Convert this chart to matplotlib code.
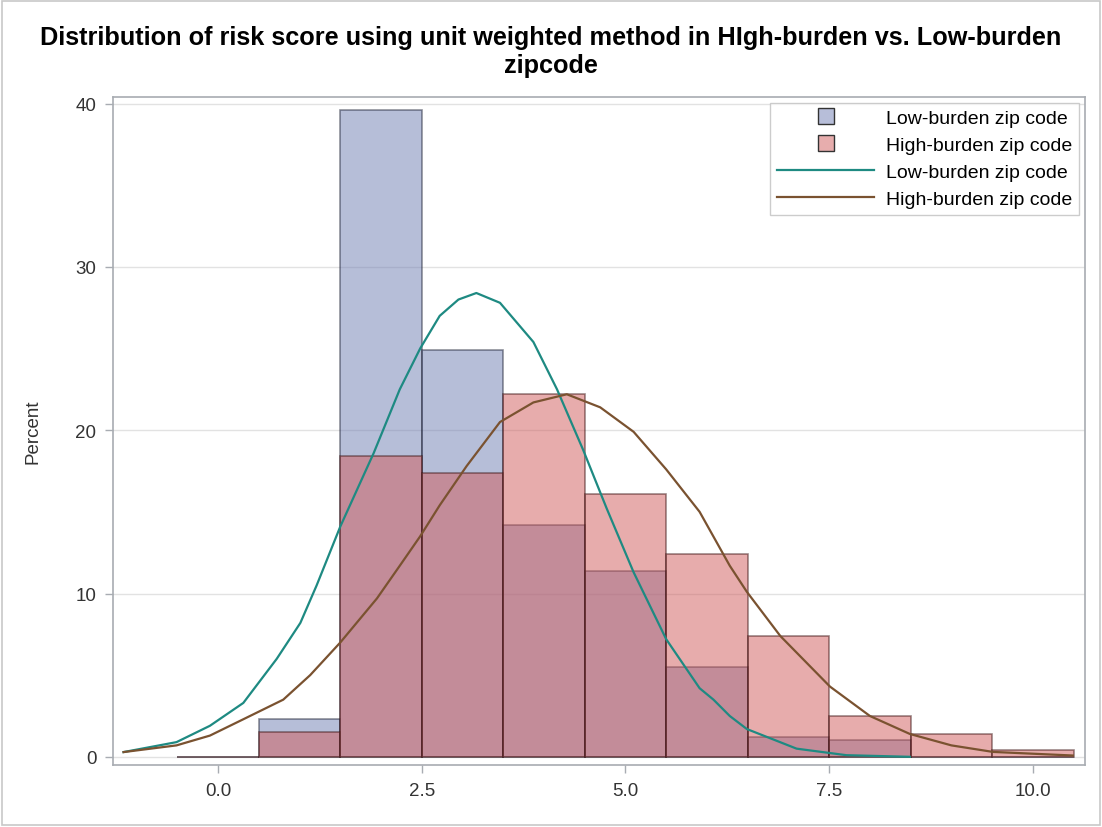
import numpy as np
import matplotlib
matplotlib.use("Agg")
import matplotlib.pyplot as plt
from matplotlib.lines import Line2D

plt.rcParams["font.family"] = ["Liberation Sans", "DejaVu Sans"]

# ── histogram bins (percent per unit-wide bin) ──
BIN_CENTERS = [0, 1, 2, 3, 4, 5, 6, 7, 8, 9, 10]
LOW_PCT  = [0.0, 2.3, 39.6, 24.9, 14.2, 11.4, 5.5, 1.2, 1.0, 0.0, 0.0]
HIGH_PCT = [0.0, 1.5, 18.4, 17.4, 22.2, 16.1, 12.4, 7.4, 2.5, 1.4, 0.4]

# ── kernel density curves ──
LOW_KDE_X = [-1.16, -0.51, -0.10, 0.31, 0.72, 1.01, 1.21, 1.50, 1.91, 2.23,
             2.48, 2.72, 2.95, 3.17, 3.46, 3.87, 4.16, 4.48, 4.77, 5.10,
             5.50, 5.91, 6.08, 6.28, 6.49, 7.10, 7.71, 8.49]
LOW_KDE_Y = [0.29, 0.9, 1.9, 3.3, 6.0, 8.2, 10.5, 14.1, 18.6, 22.5,
             25.0, 27.0, 28.0, 28.4, 27.8, 25.4, 22.5, 18.8, 15.2, 11.3,
             7.2, 4.2, 3.5, 2.5, 1.7, 0.5, 0.1, 0.0]
HIGH_KDE_X = [-1.16, -0.51, -0.10, 0.31, 0.80, 1.13, 1.50, 1.95, 2.23, 2.48,
              2.72, 3.05, 3.46, 3.87, 4.28, 4.69, 5.10, 5.50, 5.91, 6.28,
              6.49, 6.90, 7.51, 8.00, 8.49, 9.00, 9.51, 10.49]
HIGH_KDE_Y = [0.29, 0.7, 1.3, 2.3, 3.5, 5.0, 7.0, 9.7, 11.7, 13.5,
              15.4, 17.8, 20.5, 21.7, 22.2, 21.4, 19.9, 17.6, 15.0, 11.7,
              10.1, 7.4, 4.3, 2.5, 1.4, 0.7, 0.3, 0.08]

LABEL_LOW = "Low-burden zip code"
LABEL_HIGH = "High-burden zip code"
TITLE = ("Distribution of risk score using unit weighted method in HIgh-burden vs. Low-burden\n"
         "zipcode")

fig = plt.figure(figsize=(11.02, 8.28), dpi=100)
ax = fig.add_axes([0.1025, 0.0749, 0.8821, 0.8067])

# figure frame
fig.patches.append(plt.Rectangle((0.002, 0.002), 0.996, 0.996, transform=fig.transFigure,
                                 fill=False, edgecolor="#C8C8C8", linewidth=1.2))

ax.bar(BIN_CENTERS, LOW_PCT, width=1.0, color="#6F7EB3", alpha=0.5,
       edgecolor="#1E2235", linewidth=1.2, zorder=2)
ax.bar(BIN_CENTERS, HIGH_PCT, width=1.0, color="#D05B5B", alpha=0.5,
       edgecolor="#3A1010", linewidth=1.2, zorder=3)

ax.plot(LOW_KDE_X, LOW_KDE_Y, color="#1E8A82", linewidth=1.6, zorder=4)
ax.plot(HIGH_KDE_X, HIGH_KDE_Y, color="#7A5230", linewidth=1.6, zorder=4)

ax.set_xlim(-1.29, 10.64)
ax.set_ylim(-0.5, 40.4)
ax.set_yticks([0, 10, 20, 30, 40])
ax.set_xticks([0, 2.5, 5.0, 7.5, 10.0])
ax.set_xticklabels(["0.0", "2.5", "5.0", "7.5", "10.0"])
ax.grid(axis="y", color="#E2E2E2", linewidth=1.0, zorder=0)
ax.set_axisbelow(True)
for s in ax.spines.values():
    s.set_color("#A8ACB2")
    s.set_linewidth(1.2)
ax.tick_params(colors="#A8ACB2", labelcolor="#333333", labelsize=13.5,
               length=6, width=1.0, pad=6)
ax.set_ylabel("Percent", fontsize=13.5, color="#333333", labelpad=24)

fig.text(0.5, 1 - 52 / 828, TITLE, ha="center", va="center", fontsize=18.2,
         fontweight="bold", linespacing=1.2)

handles = [
    Line2D([], [], linestyle="none", marker="s", markersize=11,
           markerfacecolor="#B7BED9", markeredgecolor="#333333"),
    Line2D([], [], linestyle="none", marker="s", markersize=11,
           markerfacecolor="#E7ADAD", markeredgecolor="#333333"),
    Line2D([], [], color="#1E8A82", linewidth=1.6),
    Line2D([], [], color="#7A5230", linewidth=1.6),
]
leg = ax.legend(handles, [LABEL_LOW, LABEL_HIGH, LABEL_LOW, LABEL_HIGH],
                loc="upper right", fontsize=14, handlelength=5.0,
                borderaxespad=0.3, fancybox=False, labelspacing=0.48,
                handletextpad=0.6, borderpad=0.35)
leg.get_frame().set_edgecolor("#C0C0C0")
leg.get_frame().set_linewidth(1.0)

fig.savefig("out.png", dpi=100)
